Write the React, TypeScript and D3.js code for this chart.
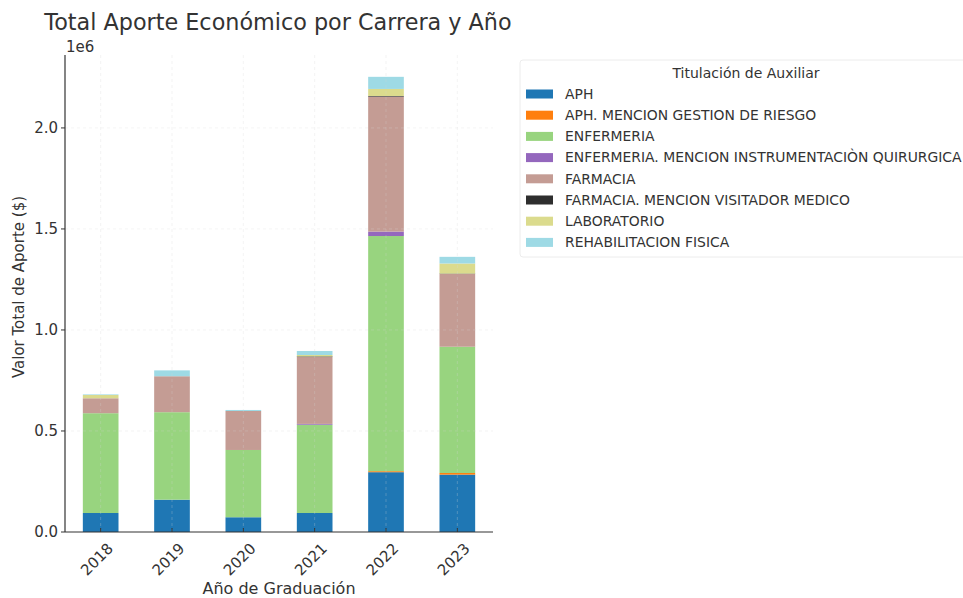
import React from 'react'
import * as d3 from 'd3'

const years = ['2018', '2019', '2020', '2021', '2022', '2023']
const series = [
  'APH',
  'APH. MENCION GESTION DE RIESGO',
  'ENFERMERIA',
  'ENFERMERIA. MENCION INSTRUMENTACIÒN QUIRURGICA',
  'FARMACIA',
  'FARMACIA. MENCION VISITADOR MEDICO',
  'LABORATORIO',
  'REHABILITACION FISICA',
]
const colors = ['#1f77b4', '#ff7f0e', '#98d47f', '#9467bd', '#c49c94', '#2e2e2e', '#dbdb8d', '#9edae5']

// valores en pesos, por año
const aph = [94000, 160000, 73000, 94000, 296000, 284000]
const aphGestion = [0, 0, 0, 0, 5000, 8000]
const enfermeria = [494000, 433000, 333000, 437000, 1164000, 625000]
const enfInstrumentacion = [0, 0, 0, 4000, 22000, 0]
const farmacia = [74000, 178000, 193000, 331000, 668000, 360000]
const farmVisitador = [0, 0, 0, 3000, 3000, 2000]
const laboratorio = [16000, 0, 0, 7000, 35000, 50000]
const rehabilitacion = [3000, 29000, 5000, 20000, 60000, 33000]

const yTicks = [0, 0.5, 1.0, 1.5, 2.0]

const values = [aph, aphGestion, enfermeria, enfInstrumentacion, farmacia, farmVisitador, laboratorio, rehabilitacion]
const rows = years.map((yr, i) => {
  const r: any = { year: yr }
  series.forEach((s, k) => { r[s] = values[k][i] })
  return r
})

const W = 963
const H = 598
const margin = { top: 55, left: 65, right: 493, bottom: 532 }
const font = 'DejaVu Sans, sans-serif'
const txt = '#333'

const App = () => {
  const x = d3.scaleBand()
    .domain(years)
    .range([margin.left, margin.right])
    .paddingInner(0.5)
    .paddingOuter(0.25)

  const y = d3.scaleLinear()
    .domain([0, 2.361e6])
    .range([margin.bottom, margin.top])

  const stacked = d3.stack().keys(series)(rows)

  return (
    <svg width={W} height={H} style={{ position: 'absolute', left: 0, top: 0, background: '#fff' }} fontFamily={font}>
      <text x={278} y={30} textAnchor='middle' fontSize={22.3} fill={txt}>Total Aporte Económico por Carrera y Año</text>

      {stacked.map((layer, k) => (
        <g key={series[k]} fill={colors[k]}>
          {layer.map((d, i) => (
            <rect key={i}
              x={x(years[i])}
              width={x.bandwidth()}
              y={y(d[1])}
              height={Math.max(0, y(d[0]) - y(d[1]))} />
          ))}
        </g>
      ))}

      {/* grid */}
      <g stroke='#d8d8d8' strokeOpacity={0.35} strokeDasharray='3,3' strokeWidth={0.8}>
        {yTicks.slice(1).map(t => (
          <line key={t} x1={margin.left} x2={margin.right} y1={y(t * 1e6)} y2={y(t * 1e6)} />
        ))}
        {years.map(yr => (
          <line key={yr} x1={x(yr)! + x.bandwidth() / 2} x2={x(yr)! + x.bandwidth() / 2} y1={margin.top} y2={margin.bottom} />
        ))}
      </g>

      {/* axes */}
      <line x1={margin.left} x2={margin.left} y1={margin.top} y2={margin.bottom} stroke={txt} strokeWidth={1.2} />
      <line x1={margin.left} x2={margin.right} y1={margin.bottom} y2={margin.bottom} stroke={txt} strokeWidth={1.2} />
      {yTicks.map(t => (
        <g key={t}>
          <line x1={margin.left - 4} x2={margin.left} y1={y(t * 1e6)} y2={y(t * 1e6)} stroke={txt} />
          <text x={margin.left - 7} y={y(t * 1e6)} dy='0.35em' textAnchor='end' fontSize={15} fill={txt}>{t.toFixed(1)}</text>
        </g>
      ))}
      <text x={margin.left + 1} y={52} fontSize={15} fill={txt}>1e6</text>
      {years.map(yr => {
        const cx = x(yr)! + x.bandwidth() / 2
        return (
          <g key={yr}>
            <line x1={cx} x2={cx} y1={margin.bottom} y2={margin.bottom - 4} stroke={txt} />
            <text transform={`translate(${cx + 6},${margin.bottom + 10}) rotate(-45)`} textAnchor='end' dy='0.7em' fontSize={15} fill={txt}>{yr}</text>
          </g>
        )
      })}
      <text x={279} y={594} textAnchor='middle' fontSize={16} fill={txt}>Año de Graduación</text>
      <text transform={`translate(24,${287}) rotate(-90)`} textAnchor='middle' fontSize={15} fill={txt}>Valor Total de Aporte ($)</text>

      {/* legend */}
      <rect x={520} y={60} width={470} height={197} rx={3} fill='#fff' stroke='#ececec' />
      <text x={746} y={78} textAnchor='middle' fontSize={14} fill={txt}>Titulación de Auxiliar</text>
      {series.map((s, k) => (
        <g key={s} transform={`translate(526,${94 + k * 21.2})`}>
          <rect x={0} y={-4.5} width={27} height={9} fill={colors[k]} />
          <text x={39} y={0} dy='0.35em' fontSize={13.9} fill={txt}>{s}</text>
        </g>
      ))}
    </svg>
  )
}

export default App
